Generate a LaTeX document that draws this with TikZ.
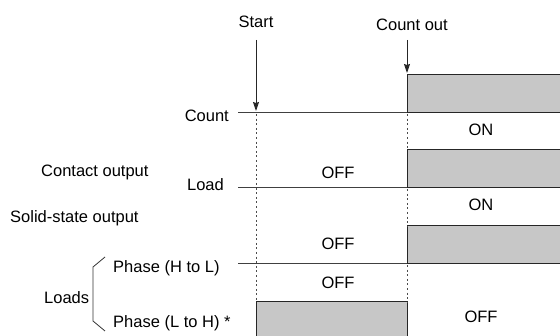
\documentclass[tikz,border=0pt]{standalone}
\usepackage{fontspec}
\setmainfont{Liberation Sans}
\usetikzlibrary{arrows.meta}
\begin{document}
\begin{tikzpicture}[x=1pt,y=-1pt,
  lbl/.style={inner sep=0pt,font=\fontsize{16.5}{19}\selectfont},
  base/.style={draw=black!75,line width=1pt},
  pulse/.style={fill=black!22,draw=black!85,line width=1pt},
  dots/.style={draw=black!70,line width=0.9pt,dash pattern=on 2pt off 2.6pt},
  marker/.style={draw=black!85,line width=0.9pt,-{Stealth[length=9pt,width=6pt,inset=1pt]}}]
\useasboundingbox (0,0) rectangle (560,336);
% labels
\node[lbl] (start) at (256,22) {Start};
\node[lbl] (cout) at (412,25) {Count out};
\node[lbl,anchor=east] (count) at (229,116) {Count};
\node[lbl,anchor=west] (contact) at (41,172) {Contact output};
\node[lbl,anchor=east] (load) at (224,185) {Load};
\node[lbl,anchor=west] (solid) at (10,218) {Solid-state output};
\node[lbl,anchor=west] (phl) at (113,268) {Phase (H to L)};
\node[lbl,anchor=west] (loads) at (44,298) {Loads};
\node[lbl,anchor=west] (plh) at (113,323) {Phase (L to H) *};
\node[lbl] (on1) at (481,130) {ON};
\node[lbl] (off1) at (338,173) {OFF};
\node[lbl] (on2) at (481,205) {ON};
\node[lbl] (off2) at (338,244) {OFF};
\node[lbl] (off3) at (338,283) {OFF};
\node[lbl] (off4) at (481,317) {OFF};
% key points
\coordinate (s0) at (256,40);
\coordinate (s1) at (256,111);
\coordinate (c0) at (407,40);
\coordinate (c1) at (407,73);
% signals
\draw[base] (238,113) -- (407,113);
\draw[pulse] (561,113) -- (407,113) -- (407,75) -- (561,75);
\draw[base] (238,188) -- (407,188);
\draw[pulse] (561,188) -- (407,188) -- (407,150) -- (561,150);
\draw[base] (238,264) -- (407,264);
\draw[pulse] (561,264) -- (407,264) -- (407,226) -- (561,226);
\draw[pulse] (256,337) -- (256,302) -- (407,302) -- (407,337);
% dotted guides
\draw[dots] (256,114) -- (256,302);
\draw[dots] (407,114) -- (407,150);
\draw[dots] (407,189) -- (407,226);
\draw[dots] (407,265) -- (407,302);
% arrows
\draw[marker] (s0) -- (s1);
\draw[marker] (c0) -- (c1);
% brace
\draw[draw=black!80,line width=0.8pt] (105,257) -- (93,267) -- (93,321) -- (105,331);
\end{tikzpicture}
\end{document}
